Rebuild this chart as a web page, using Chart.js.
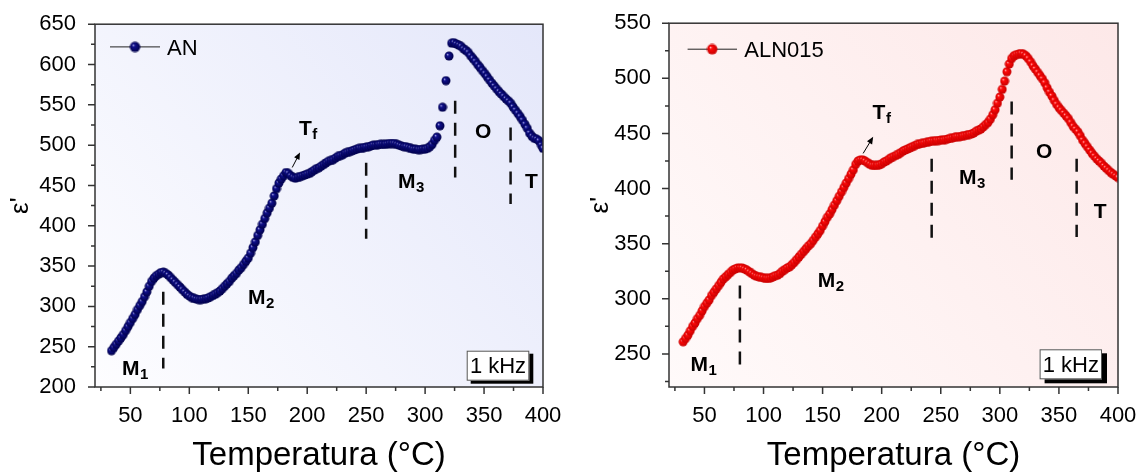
<!DOCTYPE html>
<html>
<head>
<meta charset="utf-8">
<script src="https://cdn.jsdelivr.net/npm/chart.js@4.4.1/dist/chart.umd.min.js"></script>
<style>
html, body { margin: 0; padding: 0; background: #fff; }
#wrap { position: relative; width: 1145px; height: 472px; overflow: hidden; }
#wrap canvas { position: absolute; top: 0; }
#chartAN { left: 0; }
#chartALN { left: 580px; }
</style>
</head>
<body>
<div id="wrap">
  <canvas id="chartAN" width="580" height="472"></canvas>
  <canvas id="chartALN" width="565" height="472"></canvas>
</div>
<script>
const FONT = "'Liberation Sans', Arial, sans-serif";
Chart.defaults.font.family = FONT;
Chart.defaults.color = '#000';

// ================= DATA =================
const xTickLabels = [50, 100, 150, 200, 250, 300, 350, 400];
const anYLabels = [200, 250, 300, 350, 400, 450, 500, 550, 600, 650];
const alnYLabels = [250, 300, 350, 400, 450, 500, 550];

// AN, 1 kHz
const anTemp = [
  34, 36, 38, 40, 42, 44, 46, 48, 50, 52,
  54, 56, 58, 60, 62, 64, 66, 68, 70, 72,
  74, 76, 78, 80, 82, 84, 86, 88, 90, 92,
  94, 96, 98, 100, 102, 104, 106, 108, 110, 112,
  114, 116, 118, 120, 122, 124, 126, 128, 130, 132,
  134, 136, 138, 140, 142, 144, 146, 148, 150, 152,
  154, 156, 158, 160, 162, 164, 166, 168, 170, 172,
  174, 176, 178, 180, 182, 184, 186, 188, 190, 192,
  194, 196, 198, 200, 202, 204, 206, 208, 210, 212,
  214, 216, 218, 220, 222, 224, 226, 228, 230, 232,
  234, 236, 238, 240, 242, 244, 246, 248, 250, 252,
  254, 256, 258, 260, 262, 264, 266, 268, 270, 272,
  274, 276, 278, 280, 282, 284, 286, 288, 290, 292,
  294, 296, 298, 300, 302, 304, 306, 308, 310,
  312.6, 314.8, 317.7, 320.3, 322.5, 324.5, 326.6, 328.6, 330.6, 332.6,
  334.6, 336.6, 338.6, 340.6, 342.6, 344.6, 346.6, 348.6, 350.6, 352.6,
  354.6, 356.6, 358.6, 360.6, 362.6, 364.6, 366.6, 368.6, 370.6, 372.6,
  374.6, 376.6, 378.6, 380.6, 382.6, 384.6, 386.6, 388.6, 390.6, 392.6,
  394.6, 396.6, 398.6, 400
];
const anEps = [
  245, 249, 253, 257, 261, 265, 270, 275, 280, 285,
  290, 296, 301, 306, 312, 318, 325, 331, 335, 338,
  340, 342, 342.5, 341, 339, 336, 333, 330, 327, 324,
  321, 318, 315, 313, 311, 310, 309, 308.5, 308.5, 309,
  309.5, 310.5, 312, 313.5, 315, 317, 319, 322, 325, 328,
  331, 335, 338, 341, 345, 348, 352, 356, 360, 366,
  373, 380, 388, 395, 402, 409, 416, 422, 428, 437,
  446, 453, 458, 462, 466, 465, 462, 460, 459, 460,
  461, 462, 463, 464, 465, 467, 469, 471, 472, 474,
  476, 478, 480, 481, 482, 484, 486, 487, 488, 490,
  491, 492, 493, 494, 495, 496, 496, 497, 497.5, 498,
  499, 500, 500, 500.5, 501, 501, 501, 501.5, 502, 502,
  502, 501, 500, 499, 498, 498, 497, 496, 495, 495,
  494.5, 494.5, 495, 495, 496, 498, 501, 506, 510,
  524, 547, 580, 610.5, 626.5, 627, 625.5, 624, 622.5, 619.5,
  617.5, 615, 611, 607.5, 604, 600, 596.5, 592.5, 589, 585,
  581, 577, 573.5, 570, 566.5, 563.5, 560.5, 557.5, 555, 552,
  547.5, 543.5, 539.5, 535.5, 531, 526, 521, 515, 511, 508.5,
  507.5, 505.5, 500, 496
];

// ALN015, 1 kHz
const alnTemp = [
  32, 34, 36, 38, 40, 42, 44, 46, 48, 50,
  52, 54, 56, 58, 60, 62, 64, 66, 68, 70,
  72, 74, 76, 78, 80, 82, 84, 86, 88, 90,
  92, 94, 96, 98, 100, 102, 104, 106, 108, 110,
  112, 114, 116, 118, 120, 122, 124, 126, 128, 130,
  132, 134, 136, 138, 140, 142, 144, 146, 148, 150,
  152, 154, 156, 158, 160, 162, 164, 166, 168, 170,
  172, 174, 176, 178, 180, 182, 184, 186, 188, 190,
  192, 194, 196, 198, 200, 202, 204, 206, 208, 210,
  212, 214, 216, 218, 220, 222, 224, 226, 228, 230,
  232, 234, 236, 238, 240, 242, 244, 246, 248, 250,
  252, 254, 256, 258, 260, 262, 264, 266, 268, 270,
  272, 274, 276, 278, 280, 282, 284, 286, 288, 290,
  292, 294, 296, 298, 300, 302, 304, 306, 308, 310,
  312, 314, 316, 318, 320, 322, 324, 326, 328, 330,
  332, 334, 336, 338, 340, 342, 344, 346, 348, 350,
  352, 354, 356, 358, 360, 362, 364, 366, 368, 370,
  372, 374, 376, 378, 380, 382, 384, 386, 388, 390,
  392, 394, 396, 398, 400
];
const alnEps = [
  261, 264, 267, 271, 275, 278, 282, 285, 289, 293,
  296, 299, 303, 306, 309, 312, 315, 318, 320, 322,
  324, 326, 327, 328, 328, 328, 327, 326, 324.5, 323,
  321.5, 320.5, 320, 319.5, 319, 318.5, 318.5, 319, 320, 321,
  321.5, 323, 325, 326.5, 328, 329, 331, 333, 335.5, 338,
  340.5, 343, 345.5, 348, 350, 353, 356, 359, 362, 366,
  370, 374, 377, 381, 385, 389, 393, 397, 401, 405,
  409, 413, 417, 422, 425, 426, 426, 425, 423.5, 422,
  421, 421, 421, 421.5, 422.5, 424, 425, 426.5, 428, 429,
  430, 431, 432.5, 434, 435, 436, 437, 438, 439, 440,
  440.5, 441, 441.5, 442, 442.5, 443, 443, 443.5, 443.5, 444,
  444, 444.5, 445, 445.5, 446, 446.5, 447, 447, 447.5, 448,
  448.5, 449, 449.5, 450.5, 452, 453, 454, 456, 458, 460,
  463, 467, 471.5, 477.5, 483, 490, 497.5, 506, 513, 518,
  520.5, 521.5, 522, 522.5, 522, 520.5, 518, 515, 511.5, 508.5,
  505.5, 502.5, 499.5, 496, 491.5, 487.5, 484, 480, 476.5, 473.5,
  471, 468.5, 466, 463.5, 460, 456.5, 454, 451.5, 448, 444,
  441, 438, 435, 432, 429.5, 427, 425, 423, 420.5, 418.5,
  416.5, 414.5, 413, 411.5, 410
];

// ================= MARKERS =================
// shaded ball used as point style
function sphere(base, light, dark, r) {
  const c = document.createElement('canvas');
  const s = Math.ceil(r * 2) + 1;
  c.width = c.height = s;
  const g = c.getContext('2d');
  const m = s / 2;
  const grad = g.createRadialGradient(m - r * 0.4, m - r * 0.4, 0, m, m, r);
  grad.addColorStop(0, light);
  grad.addColorStop(0.3, base);
  grad.addColorStop(1, dark);
  g.fillStyle = grad;
  g.beginPath();
  g.arc(m, m, r, 0, Math.PI * 2);
  g.fill();
  return c;
}

const blueBall = sphere('#10108c', '#c8c8f2', '#00004a', 4.5);
const redBall = sphere('#ff0a0a', '#ffd6d6', '#c80000', 4.5);

// ================= DECORATION PLUGIN =================
function label(ctx, main, sub, x, y) {
  ctx.font = 'bold 21px ' + FONT;
  ctx.fillText(main, x, y);
  if (sub) {
    const w = ctx.measureText(main).width;
    ctx.font = 'bold 15px ' + FONT;
    ctx.fillText(sub, x + w + 0.5, y + 4);
  }
}

const panelDecor = {
  id: 'panelDecor',
  beforeDraw(chart, args, o) {
    const { ctx, chartArea: a } = chart;
    const g = ctx.createLinearGradient(a.left, a.bottom, a.right, a.top);
    g.addColorStop(0, o.bg[0]);
    g.addColorStop(1, o.bg[1]);
    ctx.save();
    ctx.fillStyle = g;
    ctx.fillRect(a.left, a.top, a.right - a.left, a.bottom - a.top);
    ctx.restore();
  },
  afterDatasetsDraw(chart, args, o) {
    const { ctx, chartArea: a, scales: { x, y } } = chart;
    ctx.save();
    ctx.fillStyle = '#000';
    ctx.textAlign = 'left';
    ctx.textBaseline = 'alphabetic';

    // dashed phase boundaries
    ctx.strokeStyle = '#111';
    ctx.lineWidth = 2.5;
    ctx.setLineDash([13, 9]);
    o.bounds.forEach(([t, lo, hi]) => {
      const px = x.getPixelForValue(t);
      ctx.beginPath();
      ctx.moveTo(px, y.getPixelForValue(hi));
      ctx.lineTo(px, y.getPixelForValue(lo));
      ctx.stroke();
    });
    ctx.setLineDash([]);

    // phase names
    o.phases.forEach(([main, sub, t, v]) => {
      label(ctx, main, sub, x.getPixelForValue(t), y.getPixelForValue(v));
    });

    // arrow at Tf
    const [t0, v0, t1, v1] = o.arrow;
    const ax0 = x.getPixelForValue(t0), ay0 = y.getPixelForValue(v0);
    const ax1 = x.getPixelForValue(t1), ay1 = y.getPixelForValue(v1);
    const ang = Math.atan2(ay1 - ay0, ax1 - ax0);
    ctx.strokeStyle = '#000';
    ctx.lineWidth = 1;
    ctx.beginPath();
    ctx.moveTo(ax0, ay0);
    ctx.lineTo(ax1 - 4 * Math.cos(ang), ay1 - 4 * Math.sin(ang));
    ctx.stroke();
    ctx.beginPath();
    ctx.moveTo(ax1, ay1);
    ctx.lineTo(ax1 - 7 * Math.cos(ang) + 3 * Math.sin(ang), ay1 - 7 * Math.sin(ang) - 3 * Math.cos(ang));
    ctx.lineTo(ax1 - 7 * Math.cos(ang) - 3 * Math.sin(ang), ay1 - 7 * Math.sin(ang) + 3 * Math.cos(ang));
    ctx.closePath();
    ctx.fill();

    // frame
    ctx.strokeStyle = '#333';
    ctx.lineWidth = 1.5;
    ctx.strokeRect(a.left, a.top, a.right - a.left, a.bottom - a.top);

    // major / minor ticks, outward
    ctx.beginPath();
    for (let v = Math.ceil(x.min / 25) * 25; v <= x.max; v += 25) {
      const px = x.getPixelForValue(v);
      ctx.moveTo(px, a.bottom);
      ctx.lineTo(px, a.bottom + (v % 50 === 0 ? 7 : 4));
    }
    for (let v = Math.ceil(y.min / 25) * 25; v <= y.max; v += 25) {
      const py = y.getPixelForValue(v);
      ctx.moveTo(a.left, py);
      ctx.lineTo(a.left - (v % 50 === 0 ? 7 : 4), py);
    }
    ctx.stroke();

    // legend
    const lg = o.legend;
    const ly = a.top + lg.y;
    ctx.strokeStyle = '#222';
    ctx.lineWidth = 1;
    ctx.beginPath();
    ctx.moveTo(a.left + lg.x0, ly);
    ctx.lineTo(a.left + lg.x1, ly);
    ctx.stroke();
    const ds = chart.data.datasets[0];
    const ball = ds.pointStyle;
    const bs = ball.width * 1.15;
    ctx.drawImage(ball, a.left + lg.xm - bs / 2, ly - bs / 2, bs, bs);
    ctx.font = '22px ' + FONT;
    ctx.fillText(ds.label, a.left + lg.xt, ly + 8);

    // frequency box with drop shadow
    const fb = o.freq;
    const bx = a.right + fb.dx, by = a.bottom + fb.dy;
    ctx.fillStyle = '#000';
    ctx.fillRect(bx + fb.sx, by + fb.sy, fb.w, fb.h);
    ctx.fillStyle = '#fff';
    ctx.fillRect(bx, by, fb.w, fb.h);
    ctx.strokeStyle = '#555';
    ctx.lineWidth = 1;
    ctx.strokeRect(bx + 0.5, by + 0.5, fb.w - 1, fb.h - 1);
    ctx.fillStyle = '#000';
    ctx.font = '22px ' + FONT;
    ctx.textAlign = 'center';
    ctx.fillText('1 kHz', bx + fb.w / 2, by + 22.5);

    // axis titles
    ctx.font = '33px ' + FONT;
    ctx.fillText('Temperatura (\u00B0C)', (a.left + a.right) / 2, 465);
    ctx.translate(28, (a.top + a.bottom) / 2);
    ctx.rotate(-Math.PI / 2);
    ctx.font = '26px ' + FONT;
    ctx.fillText("\u03B5'", 0, 0);
    ctx.restore();
  }
};

// ================= CHARTS =================
function makeChart(id, cfg) {
  return new Chart(document.getElementById(id), {
    type: 'line',
    data: {
      datasets: [{
        label: cfg.label,
        data: cfg.temp.map((t, i) => ({ x: t, y: cfg.eps[i] })),
        showLine: false,
        pointStyle: cfg.marker,
        pointRadius: 4.5,
        clip: 0
      }]
    },
    options: {
      responsive: false,
      animation: false,
      events: [],
      layout: { padding: { left: 0, right: cfg.padRight, top: 23, bottom: 0 } },
      plugins: {
        legend: { display: false },
        tooltip: { enabled: false },
        panelDecor: cfg.decor
      },
      scales: {
        x: {
          type: 'linear', min: 20, max: 400,
          grid: { display: false }, border: { display: false },
          ticks: {
            stepSize: 25, autoSkip: false, maxRotation: 0, padding: 8,
            font: { size: 22 },
            callback: v => xTickLabels.includes(v) ? v : ''
          },
          afterFit: s => { s.height = 85; }
        },
        y: {
          type: 'linear', min: cfg.yMin, max: cfg.yMax,
          grid: { display: false }, border: { display: false },
          ticks: {
            stepSize: 25, autoSkip: false, padding: cfg.yPad,
            font: { size: 22 },
            callback: v => cfg.yLabels.includes(v) ? v : ''
          },
          afterFit: s => { s.width = cfg.axisLeft; }
        }
      }
    },
    plugins: [panelDecor]
  });
}

makeChart('chartAN', {
  label: 'AN', temp: anTemp, eps: anEps, marker: blueBall,
  yMin: 200, yMax: 650, yLabels: anYLabels, yPad: 11,
  axisLeft: 95, padRight: 37,
  decor: {
    bg: ['#fdfdff', '#e4e7fa'],
    bounds: [[77.9, 223, 318], [250, 384, 478], [325.5, 460, 555], [372.5, 427, 522]],
    phases: [['M', '1', 42.9, 214.8], ['M', '2', 149.8, 302.6], ['M', '3', 277, 447.2],
             ['O', '', 342.3, 508.4], ['T', '', 384.7, 447.2], ['T', 'f', 193, 512.7]],
    arrow: [187.3, 472.3, 193.9, 490.9],
    legend: { y: 22.7, x0: 15, x1: 65, xm: 40, xt: 72 },
    freq: { dx: -76.3, dy: -36.3, w: 62.6, h: 30, sx: 4, sy: 3 }
  }
});

makeChart('chartALN', {
  label: 'ALN015', temp: alnTemp, eps: alnEps, marker: redBall,
  yMin: 220, yMax: 550, yLabels: alnYLabels, yPad: 10,
  axisLeft: 89, padRight: 27,
  decor: {
    bg: ['#fffafa', '#fde8e8'],
    bounds: [[80, 240, 312], [242.3, 355, 427], [310, 408, 479], [365, 356, 427]],
    phases: [['M', '1', 38.3, 234.5], ['M', '2', 145.9, 310.7], ['M', '3', 265.4, 404],
             ['O', '', 330.7, 427.6], ['T', '', 379.4, 373.2], ['T', 'f', 192.3, 463]],
    arrow: [184.3, 431.9, 192.8, 446.9],
    legend: { y: 26, x0: 18.6, x1: 68, xm: 43.2, xt: 75.3 },
    freq: { dx: -78.4, dy: -37.7, w: 62.4, h: 30, sx: 5, sy: 4 }
  }
});
</script>
</body>
</html>
